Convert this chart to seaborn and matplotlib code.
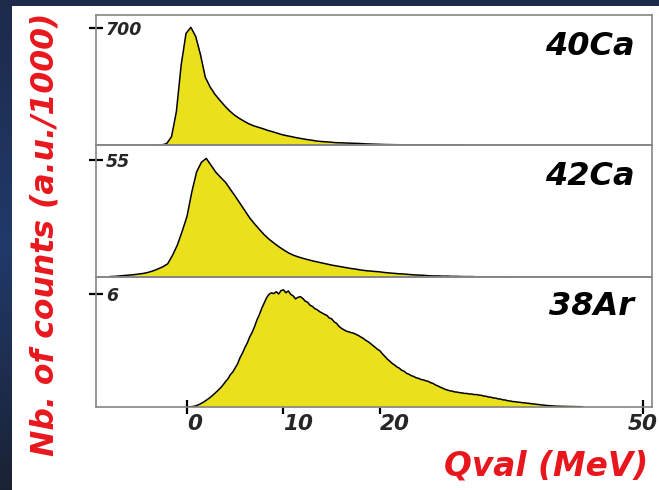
import numpy as np
import pandas as pd
import matplotlib
matplotlib.use("Agg")
import matplotlib.pyplot as plt
from matplotlib.patches import Rectangle
from matplotlib.colors import LinearSegmentedColormap
import seaborn as sns

# ---- Q-value spectra (counts in a.u./1000) ----
# each spectrum: first bin centre (MeV), bin width (MeV), counts per bin
ca40_start, ca40_width = -3.1, 0.5
ca40_counts = [0, 0, 9, 50, 200, 480, 668, 704, 650, 540, 405, 347,
               303, 268, 235, 205, 180, 160, 143, 127, 115, 106, 97, 87, 79,
               70, 61, 55, 49, 43, 38, 33, 29, 24, 21, 19,
               17, 14, 13, 12, 11, 10, 9, 7, 6, 5, 4,
               3, 2.5, 2, 1.6, 1.4, 1.2, 1.1, 1.0, 0.9, 0.8, 0.7,
               0.7, 0.6, 0.5, 0.5, 0.4, 0.4, 0.3]

ca42_start, ca42_width = -8.0, 0.5
ca42_counts = [0.2, 0.3, 0.5, 0.7, 0.9, 1.1, 1.4, 1.7, 2.2, 2.9, 3.8,
               4.8, 6.2, 10.2, 15.0, 21.5, 28.5, 40.0, 49.5, 54.0, 55.8, 52.5,
               49.2, 46.8, 44.5, 41.2, 38.0, 34.6, 31.2, 27.8, 25.0, 22.4,
               19.9, 17.8, 16.0, 14.3, 12.8, 11.4, 10.3, 9.5, 8.8, 8.2, 7.6,
               7.1, 6.6, 6.1, 5.6, 5.2, 4.8, 4.4, 4.0, 3.7, 3.3, 3.0, 2.8,
               2.6, 2.4, 2.1, 1.9, 1.7, 1.5, 1.4, 1.2, 1.0, 0.9, 0.8, 0.6,
               0.5, 0.5, 0.4, 0.4, 0.3, 0.3, 0.2, 0.2, 0.2, 0.1, 0.1, 0.1,
               0.1, 0.05, 0.05, 0.03, 0.0]

ar38_start, ar38_width = 0.0, 0.25
ar38_counts = [0.00, 0.01, 0.02, 0.04, 0.08, 0.13, 0.20, 0.27, 0.36, 0.45,
               0.55, 0.66, 0.78, 0.90, 1.03, 1.18, 1.35, 1.50, 1.72, 1.86,
               2.08, 2.30, 2.62, 2.86, 3.15, 3.40, 3.72, 3.96, 4.26, 4.62,
               4.90, 5.24, 5.52, 5.80, 5.98, 6.06, 6.02, 6.12, 6.00, 6.18,
               6.22, 6.06, 6.16, 5.98, 5.90, 5.74, 5.82, 5.86, 5.76, 5.62,
               5.56, 5.40, 5.34, 5.22, 5.16, 5.06, 4.99, 4.92, 4.86, 4.72,
               4.68, 4.52, 4.44, 4.28, 4.18, 4.10, 4.03, 3.99, 3.95, 3.92,
               3.86, 3.80, 3.72, 3.65, 3.55, 3.47, 3.38, 3.27, 3.17, 3.06,
               2.98, 2.82, 2.69, 2.55, 2.44, 2.32, 2.23, 2.13, 2.06, 1.95,
               1.90, 1.79, 1.74, 1.66, 1.62, 1.55, 1.52, 1.46, 1.44, 1.39,
               1.36, 1.29, 1.25, 1.17, 1.12, 1.05, 1.00, 0.94, 0.90, 0.86,
               0.84, 0.80, 0.79, 0.76, 0.75, 0.72, 0.72, 0.69, 0.69, 0.66,
               0.66, 0.63, 0.62, 0.58, 0.57, 0.53, 0.52, 0.48, 0.47, 0.43,
               0.42, 0.38, 0.37, 0.33, 0.32, 0.29, 0.28, 0.26, 0.25, 0.23,
               0.22, 0.20, 0.19, 0.17, 0.16, 0.14, 0.13, 0.11, 0.10, 0.08,
               0.07, 0.06, 0.05, 0.045, 0.04, 0.035, 0.03, 0.03, 0.03, 0.025,
               0.02, 0.02, 0.02, 0.015, 0.01]

nuclei = ["40Ca", "42Ca", "38Ar"]
spectra = [(ca40_start, ca40_width, ca40_counts),
           (ca42_start, ca42_width, ca42_counts),
           (ar38_start, ar38_width, ar38_counts)]
y_tick_values = [700, 55, 6]
y_limits = [778, 62.1, 6.9]
x_tick_values = [0, 10, 20, 47.25]
x_tick_labels = ["0", "10", "20", "50"]
x_limits = (-9.43, 48.19)

YELLOW = "#ebe01c"
RED = "#e8171d"
SPINE = "#858585"

sns.set_theme(style="white")
plt.rcParams["font.family"] = ["DejaVu Sans"]

W, H = 659, 490
fig = plt.figure(figsize=(W / 100, H / 100), dpi=100)
fig.patch.set_facecolor("#1d2b4c")

# dark slide backdrop with a soft vertical gradient
bg = fig.add_axes([0, 0, 1, 1], zorder=-10)
cmap = LinearSegmentedColormap.from_list("slide", ["#1d2a4a", "#213a6a", "#1a2234"])
bg.imshow(np.linspace(0, 1, 256).reshape(-1, 1), aspect="auto", cmap=cmap,
          extent=[0, 1, 0, 1])
bg.set_axis_off()

# white content area
fig.add_artist(Rectangle((12 / W, 0), 1, 1 - 6 / H, transform=fig.transFigure,
                         facecolor="white", edgecolor="none", zorder=-5))

left = 96 / W
width = (652 - 96) / W
panel_px = [(15, 145), (145, 277), (277, 407)]
label_baseline = [0.692, 0.697, 0.708]

for i, (top, bottom) in enumerate(panel_px):
    ax = fig.add_axes([left, 1 - bottom / H, width, (bottom - top) / H])
    ax.set_facecolor("none")
    start, bw, counts = spectra[i]
    centres = [round(start + k * bw, 3) for k in range(len(counts))]
    edges = [c - bw / 2 for c in centres] + [centres[-1] + bw / 2]
    df = pd.DataFrame({"q": centres, "counts": counts})
    sns.histplot(data=df, x="q", weights="counts", bins=edges, element="poly",
                 fill=True, color=YELLOW, alpha=1, linewidth=0, ax=ax)
    sns.histplot(data=df, x="q", weights="counts", bins=edges, element="poly",
                 fill=False, color="black", linewidth=1.1, ax=ax)
    ax.set_xlim(*x_limits)
    ax.set_ylim(0, y_limits[i])
    ax.set_xlabel("")
    ax.set_ylabel("")
    for sp in ax.spines.values():
        sp.set_color(SPINE)
        sp.set_linewidth(1.2)

    ax.set_yticks([y_tick_values[i]])
    ax.set_yticklabels([str(y_tick_values[i])])
    ax.tick_params(axis="y", left=True, direction="inout", length=10, width=1.6,
                   color="black", pad=-12.2, labelsize=12.5)
    for lab in ax.get_yticklabels():
        lab.set_ha("left")
        lab.set_fontweight("bold")
        lab.set_fontstyle("italic")

    ax.text(0.968, label_baseline[i], nuclei[i], transform=ax.transAxes,
            ha="right", va="baseline", fontsize=23, fontweight="bold",
            fontstyle="italic", color="black")

    if i < 2:
        ax.set_xticks([])
    else:
        ax.set_xticks(x_tick_values)
        ax.set_xticklabels(x_tick_labels)
        ax.tick_params(axis="x", bottom=True, direction="inout", length=9.5,
                       width=1.6, color="black", pad=0.5, labelsize=15.5)
        for j, lab in enumerate(ax.get_xticklabels()):
            lab.set_ha("center" if j == len(x_tick_labels) - 1 else "left")
            lab.set_fontweight("bold")
            lab.set_fontstyle("italic")

fig.text(0.069, 0.522, "Nb. of counts (a.u./1000)", rotation=90, color=RED,
         ha="center", va="center", fontsize=22.7, fontweight="bold",
         fontstyle="italic")
fig.text(0.983, 0.0306, "Qval (MeV)", ha="right", va="baseline", color=RED,
         fontsize=23.6, fontweight="bold", fontstyle="italic")

fig.savefig("out.png", dpi=100, facecolor=fig.get_facecolor())
